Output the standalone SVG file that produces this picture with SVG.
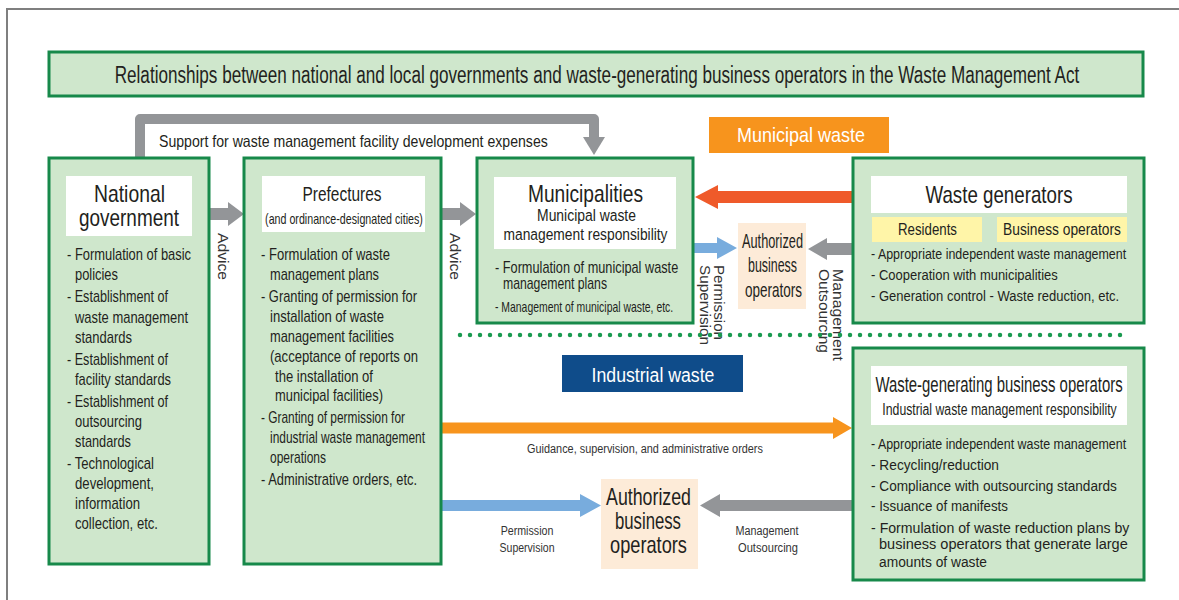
<svg xmlns="http://www.w3.org/2000/svg" width="1179" height="600" viewBox="0 0 1179 600">
<style>
text{font-family:"Liberation Sans",Arial,sans-serif;fill:#231f20}
.box{fill:#cfe7cc;stroke:#17894a;stroke-width:3}
.lbl{fill:#ffffff}
.b{font-size:16px}
.r{font-size:15.5px}
.c{text-anchor:middle}
.s{font-size:13.5px;fill:#333}
.v{font-size:15px;fill:#333}
.wt{fill:#ffffff}
.peach{fill:#fdebd8}
.yel{fill:#fff5a8}
.gr{fill:#939598}
</style>
<rect width="1179" height="600" fill="#ffffff"/>
<path d="M7 600 V9 H1179" fill="none" stroke="#7f7f7f" stroke-width="2"/>

<g id="title">
<rect x="49" y="52" width="1094" height="44" class="box"/>
<text transform="translate(597 83) scale(0.744 1)" font-size="23" class="c">Relationships between national and local governments and waste-generating business operators in the Waste Management Act</text>
</g>

<g id="connectors">
<path d="M140 158 V119 H594 V138" fill="none" stroke="#939598" stroke-width="10" stroke-linejoin="round"/>
<polygon points="583,137 605,137 594,155" class="gr"/>
<text transform="translate(159 147) scale(0.855 1)" font-size="16.5">Support for waste management facility development expenses</text>
<polygon points="209,208 228,208 228,202 244,214 228,226 228,220 209,220" class="gr"/>
<polygon points="441,208 460,208 460,202 476,214 460,226 460,220 441,220" class="gr"/>
<text transform="translate(218,233) rotate(90)" class="v" textLength="47" lengthAdjust="spacingAndGlyphs">Advice</text>
<text transform="translate(450,233) rotate(90)" class="v" textLength="47" lengthAdjust="spacingAndGlyphs">Advice</text>
<polygon points="852,191 718,191 718,185 695,197 718,209 718,203 852,203" fill="#ef5a2a"/>
<polygon points="693,243 717,243 717,237 737,248 717,259 717,253 693,253" fill="#78acdd"/>
<polygon points="852,243 827,243 827,238 808,249 827,260 827,255 852,255" class="gr"/>
<text transform="translate(714,265) rotate(90)" class="v" textLength="75" lengthAdjust="spacingAndGlyphs">Permission</text>
<text transform="translate(700,265) rotate(90)" class="v" textLength="80" lengthAdjust="spacingAndGlyphs">Supervision</text>
<text transform="translate(833,269) rotate(90)" class="v" textLength="92" lengthAdjust="spacingAndGlyphs">Management</text>
<text transform="translate(819,269) rotate(90)" class="v" textLength="84" lengthAdjust="spacingAndGlyphs">Outsourcing</text>
<line x1="460" y1="335" x2="1125" y2="335" stroke="#1a9a50" stroke-width="4.5" stroke-linecap="round" stroke-dasharray="0 10"/>
<polygon points="441,422.5 833,422.5 833,417 852,428 833,439 833,433.5 441,433.5" fill="#f7941d"/>
<text transform="translate(645 453) scale(0.807 1)" class="s c">Guidance, supervision, and administrative orders</text>
<polygon points="441,500 580,500 580,494 601,505.5 580,517 580,511 441,511" fill="#78acdd"/>
<polygon points="852,500 720,500 720,494 700,505.5 720,517 720,511 852,511" class="gr"/>
<text transform="translate(527 535) scale(0.79 1)" class="s c">Permission</text>
<text transform="translate(527 552) scale(0.78 1)" class="s c">Supervision</text>
<text transform="translate(767 535) scale(0.8 1)" class="s c">Management</text>
<text transform="translate(768 552) scale(0.824 1)" class="s c">Outsourcing</text>
</g>

<g id="municipal-waste-label">
<rect x="709" y="117" width="180" height="36" fill="#f7941d"/>
<text transform="translate(801 142) scale(0.9 1)" font-size="20" class="c wt">Municipal waste</text>
</g>

<g id="industrial-waste-label">
<rect x="562" y="355" width="181" height="37" fill="#0f4c8a"/>
<text transform="translate(653 382) scale(0.843 1)" font-size="21" class="c wt">Industrial waste</text>
</g>

<g id="national-government">
<rect x="49" y="158" width="160" height="406" class="box"/>
<rect x="66" y="176" width="126" height="60" class="lbl"/>
<text transform="translate(129.5 202) scale(0.841 1)" font-size="23" class="c">National</text>
<text transform="translate(129 226) scale(0.824 1)" font-size="23" class="c">government</text>
<text transform="translate(67 260) scale(0.8 1)" class="b" textLength="155" lengthAdjust="spacingAndGlyphs">- Formulation of basic</text>
<text transform="translate(75 280) scale(0.8 1)" class="b" textLength="53.75" lengthAdjust="spacingAndGlyphs">policies</text>
<text transform="translate(67 302) scale(0.8 1)" class="b" textLength="126.25" lengthAdjust="spacingAndGlyphs">- Establishment of</text>
<text transform="translate(75 323) scale(0.8 1)" class="b" textLength="141.25" lengthAdjust="spacingAndGlyphs">waste management</text>
<text transform="translate(75 343) scale(0.8 1)" class="b" textLength="71.25" lengthAdjust="spacingAndGlyphs">standards</text>
<text transform="translate(67 365) scale(0.8 1)" class="b" textLength="126.25" lengthAdjust="spacingAndGlyphs">- Establishment of</text>
<text transform="translate(75 385) scale(0.8 1)" class="b" textLength="120" lengthAdjust="spacingAndGlyphs">facility standards</text>
<text transform="translate(67 407) scale(0.8 1)" class="b" textLength="126.25" lengthAdjust="spacingAndGlyphs">- Establishment of</text>
<text transform="translate(75 427) scale(0.8 1)" class="b" textLength="83.75" lengthAdjust="spacingAndGlyphs">outsourcing</text>
<text transform="translate(75 447) scale(0.8 1)" class="b" textLength="70" lengthAdjust="spacingAndGlyphs">standards</text>
<text transform="translate(67 469) scale(0.8 1)" class="b" textLength="108.75" lengthAdjust="spacingAndGlyphs">- Technological</text>
<text transform="translate(75 489) scale(0.8 1)" class="b" textLength="98.75" lengthAdjust="spacingAndGlyphs">development,</text>
<text transform="translate(75 509) scale(0.8 1)" class="b" textLength="81.25" lengthAdjust="spacingAndGlyphs">information</text>
<text transform="translate(75 529) scale(0.8 1)" class="b" textLength="103.75" lengthAdjust="spacingAndGlyphs">collection, etc.</text>
</g>

<g id="prefectures">
<rect x="244" y="158" width="197" height="406" class="box"/>
<rect x="262" y="176" width="163" height="56" class="lbl"/>
<text transform="translate(342 201) scale(0.736 1)" font-size="21" class="c">Prefectures</text>
<text transform="translate(344 224) scale(0.763 1)" font-size="14" class="c">(and ordinance-designated cities)</text>
<text transform="translate(261 260) scale(0.8 1)" class="b" textLength="161.25" lengthAdjust="spacingAndGlyphs">- Formulation of waste</text>
<text transform="translate(270 280) scale(0.8 1)" class="b" textLength="136.25" lengthAdjust="spacingAndGlyphs">management plans</text>
<text transform="translate(261 302) scale(0.8 1)" class="b" textLength="195" lengthAdjust="spacingAndGlyphs">- Granting of permission for</text>
<text transform="translate(270 322) scale(0.8 1)" class="b" textLength="142.5" lengthAdjust="spacingAndGlyphs">installation of waste</text>
<text transform="translate(270 342) scale(0.8 1)" class="b" textLength="155" lengthAdjust="spacingAndGlyphs">management facilities</text>
<text transform="translate(270 362) scale(0.8 1)" class="b" textLength="185" lengthAdjust="spacingAndGlyphs">(acceptance of reports on</text>
<text transform="translate(275 382) scale(0.8 1)" class="b" textLength="122.5" lengthAdjust="spacingAndGlyphs">the installation of</text>
<text transform="translate(275 401) scale(0.8 1)" class="b" textLength="135" lengthAdjust="spacingAndGlyphs">municipal facilities)</text>
<text transform="translate(261 423) scale(0.8 1)" class="b" textLength="180" lengthAdjust="spacingAndGlyphs">- Granting of permission for</text>
<text transform="translate(270 443) scale(0.8 1)" class="b" textLength="193.75" lengthAdjust="spacingAndGlyphs">industrial waste management</text>
<text transform="translate(270 463) scale(0.8 1)" class="b" textLength="70" lengthAdjust="spacingAndGlyphs">operations</text>
<text transform="translate(261 485) scale(0.8 1)" class="b" textLength="195" lengthAdjust="spacingAndGlyphs">- Administrative orders, etc.</text>
</g>

<g id="municipalities">
<rect x="477" y="158" width="216" height="165" class="box"/>
<rect x="494" y="177" width="182" height="72" class="lbl"/>
<text transform="translate(585.5 202) scale(0.799 1)" font-size="24" class="c">Municipalities</text>
<text transform="translate(586.5 221) scale(0.819 1)" font-size="17" class="c">Municipal waste</text>
<text transform="translate(585.5 240) scale(0.812 1)" font-size="17" class="c">management responsibility</text>
<text transform="translate(495 273) scale(0.796 1)" class="b">- Formulation of municipal waste</text>
<text transform="translate(503 289) scale(0.765 1)" class="b">management plans</text>
<text transform="translate(495 312) scale(0.694 1)" font-size="15">- Management of municipal waste, etc.</text>
</g>

<g id="authorized-municipal">
<rect x="738" y="223" width="68" height="86" class="peach"/>
<text transform="translate(772.5 248) scale(0.638 1)" font-size="20" class="c">Authorized</text>
<text transform="translate(772.5 272) scale(0.621 1)" font-size="20" class="c">business</text>
<text transform="translate(773.5 297) scale(0.675 1)" font-size="20" class="c">operators</text>
</g>

<g id="waste-generators">
<rect x="853" y="158" width="291" height="165" class="box"/>
<rect x="871" y="176" width="256" height="37" class="lbl"/>
<text transform="translate(999 203) scale(0.781 1)" font-size="24" class="c">Waste generators</text>
<rect x="872" y="217" width="110" height="25" class="yel"/>
<rect x="997" y="217" width="130" height="25" class="yel"/>
<text transform="translate(927.5 235) scale(0.78 1)" font-size="17" class="c">Residents</text>
<text transform="translate(1062 235) scale(0.811 1)" font-size="17" class="c">Business operators</text>
<text transform="translate(871 259) scale(0.803 1)" class="r">- Appropriate independent waste management</text>
<text transform="translate(871 280) scale(0.838 1)" class="r">- Cooperation with municipalities</text>
<text transform="translate(871 301) scale(0.84 1)" class="r">- Generation control - Waste reduction, etc.</text>
</g>

<g id="waste-generating-business-operators">
<rect x="853" y="348" width="291" height="232" class="box"/>
<rect x="871" y="366" width="256" height="59" class="lbl"/>
<text transform="translate(999 392) scale(0.678 1)" font-size="22" class="c">Waste-generating business operators</text>
<text transform="translate(999.5 415) scale(0.766 1)" font-size="16" class="c">Industrial waste management responsibility</text>
<text transform="translate(871 449) scale(0.803 1)" class="r">- Appropriate independent waste management</text>
<text transform="translate(871 470) scale(0.885 1)" class="r">- Recycling/reduction</text>
<text transform="translate(871 491) scale(0.879 1)" class="r">- Compliance with outsourcing standards</text>
<text transform="translate(871 511) scale(0.86 1)" class="r">- Issuance of manifests</text>
<text transform="translate(871 533) scale(0.912 1)" class="r">- Formulation of waste reduction plans by</text>
<text transform="translate(879 549) scale(0.938 1)" class="r">business operators that generate large</text>
<text transform="translate(879 567) scale(0.889 1)" class="r">amounts of waste</text>
</g>

<g id="authorized-industrial">
<rect x="601" y="479" width="97" height="90" class="peach"/>
<text transform="translate(648.5 505) scale(0.773 1)" font-size="23" class="c">Authorized</text>
<text transform="translate(648 529) scale(0.727 1)" font-size="23" class="c">business</text>
<text transform="translate(648.5 553) scale(0.792 1)" font-size="23" class="c">operators</text>
</g>
</svg>
